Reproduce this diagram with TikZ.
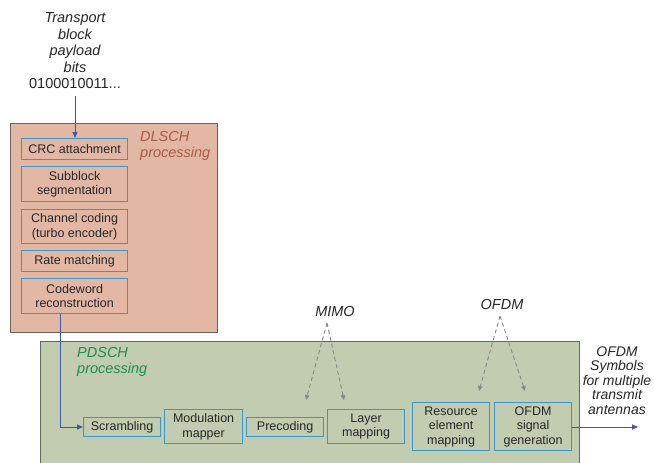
\documentclass[tikz,border=0pt]{standalone}
\usepackage{fontspec}
\setmainfont{Liberation Sans}
\usetikzlibrary{arrows.meta}
\definecolor{dlfill}{RGB}{226,184,164}
\definecolor{dlline}{RGB}{115,95,85}
\definecolor{pdfill}{RGB}{193,204,176}
\definecolor{pdline}{RGB}{95,105,95}
\definecolor{boxline}{RGB}{60,150,200}
\definecolor{arrblue}{RGB}{60,90,170}
\definecolor{dltext}{RGB}{170,90,70}
\definecolor{pdtext}{RGB}{30,140,80}
\definecolor{dashgray}{RGB}{135,135,135}
\tikzset{
  procbox/.style={draw=boxline, line width=1.2pt, align=center, inner sep=0pt,
    font=\fontsize{12.5}{14.5}\selectfont, text=black!85},
  flow/.style={draw=arrblue, line width=0.8pt, -{Triangle[length=6pt,width=5pt]}},
  hint/.style={draw=dashgray, line width=0.9pt, dash pattern=on 4pt off 3pt,
    -{Triangle[length=5pt,width=4.5pt]}},
  lbl/.style={font=\fontsize{14.5}{16.5}\selectfont\itshape, align=center, text=black!85, inner sep=0pt},
  grp/.style={font=\fontsize{14.5}{16}\selectfont\itshape, align=left, anchor=north west, inner sep=0pt},
}
\begin{document}
\begin{tikzpicture}[x=1pt,y=-1pt]
\useasboundingbox (0,0) rectangle (654,463);
% containers
\node[draw=dlline, fill=dlfill, line width=0.9pt, inner sep=0pt, minimum width=207pt, minimum height=209pt, anchor=north west] (dl) at (10,123) {};
\node[draw=pdline, fill=pdfill, line width=0.9pt, inner sep=0pt, minimum width=539pt, minimum height=122pt, anchor=north west] (pd) at (40,340.5) {};
\node[grp, text=dltext] (dlt) at (140,131.5) {DLSCH\\processing};
\node[grp, text=pdtext] (pdt) at (77,347.5) {PDSCH\\processing};
% input text
\node[lbl, anchor=north] (tb) at (75,12.5) {Transport\\block\\payload\\bits\\\upshape 0100010011...};
% DLSCH boxes
\node[procbox, minimum width=106pt, minimum height=21pt, anchor=north west] (crc) at (21,138) {CRC attachment};
\node[procbox, minimum width=106pt, minimum height=35pt, anchor=north west] (sub) at (21,166) {Subblock\\segmentation};
\node[procbox, minimum width=106pt, minimum height=34pt, anchor=north west] (cc) at (21,209) {Channel coding\\(turbo encoder)};
\node[procbox, minimum width=106pt, minimum height=21pt, anchor=north west] (rm) at (21,250) {Rate matching};
\node[procbox, minimum width=106pt, minimum height=35pt, anchor=north west] (cw) at (21,278) {Codeword\\reconstruction};
% PDSCH boxes
\node[procbox, minimum width=77pt, minimum height=19pt, anchor=north west] (scr) at (83,417) {Scrambling};
\node[procbox, minimum width=78pt, minimum height=34pt, anchor=north west] (mod) at (164,409) {Modulation\\mapper};
\node[procbox, minimum width=77pt, minimum height=19pt, anchor=north west] (pre) at (246,417) {Precoding};
\node[procbox, minimum width=77pt, minimum height=34pt, anchor=north west] (lay) at (327,409) {Layer\\mapping};
\node[procbox, minimum width=77pt, minimum height=48pt, anchor=north west] (rem) at (412,402) {Resource\\element\\mapping};
\node[procbox, minimum width=77pt, minimum height=48pt, anchor=north west] (ofg) at (494,402) {OFDM\\signal\\generation};
% labels
\node[lbl] (mimo) at (335,312) {MIMO};
\node[lbl] (ofdm) at (502,305) {OFDM};
\node[lbl, font=\fontsize{14}{14.5}\selectfont\itshape, anchor=north] (out) at (617,346.5) {OFDM\\Symbols\\for multiple\\transmit\\antennas};
\coordinate (instart) at (75,96);
\coordinate (outend) at (638,427);
\coordinate (mimoap) at (327,323);
\coordinate (ofdmap) at (500,316);
\coordinate (mimoL) at (306,400);
\coordinate (mimoR) at (344,400);
\coordinate (ofdmL) at (479,391);
\coordinate (ofdmR) at (525,391);
% connectors
\draw[flow] (instart) -- (instart |- crc.north);
\draw[flow] (cw.south -| 60,0) -- (60,427) -- (scr.west |- 0,427);
\draw[flow] (ofg.east |- outend) -- (outend);
\draw[hint] (mimoap) -- (mimoL);
\draw[hint] (mimoap) -- (mimoR);
\draw[hint] (ofdmap) -- (ofdmL);
\draw[hint] (ofdmap) -- (ofdmR);
\end{tikzpicture}
\end{document}
